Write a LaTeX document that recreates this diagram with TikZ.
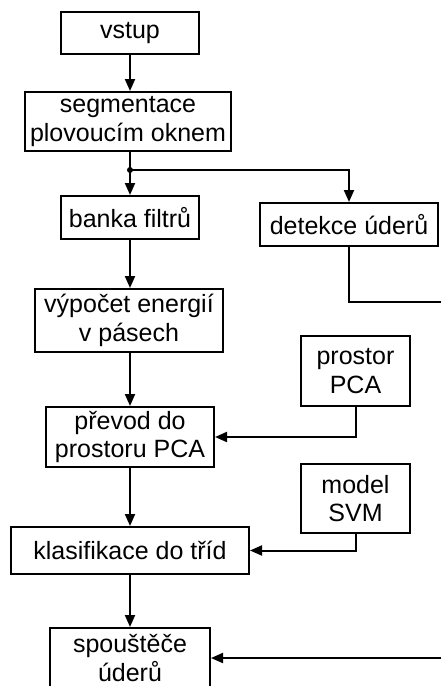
\documentclass[tikz,border=0pt]{standalone}
\usepackage{fontspec}
\setmainfont{Liberation Sans}
\usetikzlibrary{arrows.meta}
\tikzset{
  box/.style={draw, line width=2pt, inner sep=0pt, align=center,
    font=\fontsize{25}{28.5}\selectfont},
  flow/.style={line width=2pt, -{Triangle[length=12pt,width=10pt]}},
  wire/.style={line width=2pt},
}
\begin{document}
\begin{tikzpicture}[x=1pt,y=-1pt]
  \useasboundingbox (0,0) rectangle (441,686);
  \clip (0,0) rectangle (441,686);

  % processing chain
  \node[box, minimum width=138pt, minimum height=42pt] (vstup) at (130,33) {vstup};
  \node[box, minimum width=206pt, minimum height=59pt] (seg) at (128,121.5) {segmentace\\plovoucím oknem};
  \node[box, minimum width=138pt, minimum height=43pt] (banka) at (130,217.5) {banka filtrů};
  \node[box, minimum width=178pt, minimum height=43pt] (detekce) at (349,224.5) {detekce úderů};
  \node[box, minimum width=188pt, minimum height=63pt] (energie) at (129,320.5) {výpočet energií\\v pásech};
  \node[box, minimum width=109pt, minimum height=70pt] (pca) at (355.5,371) {prostor\\PCA};
  \node[box, minimum width=168pt, minimum height=60pt] (prevod) at (130,437) {převod do\\prostoru PCA};
  \node[box, minimum width=109pt, minimum height=69pt] (svm) at (355.5,498.5) {model\\SVM};
  \node[box, minimum width=238pt, minimum height=47pt] (klas) at (130,550.5) {klasifikace do tříd};
  \node[box, minimum width=160pt, minimum height=60pt] (spoust) at (130,658) {spouštěče\\úderů};

  % split after segmentation
  \coordinate (split) at (130,170);
  \draw[wire] (seg.south -| split) -- (split);
  \fill (split) circle (3pt);
  \draw[flow] (split) -- (banka.north -| split);
  \draw[flow] (split) -| (detekce.north);

  % main vertical flow
  \draw[flow] (vstup.south) -- (seg.north -| vstup.south);
  \draw[flow] (banka.south) -- (energie.north -| banka.south);
  \draw[flow] (energie.south -| prevod.north) -- (prevod.north);
  \draw[flow] (prevod.south) -- (klas.north);
  \draw[flow] (klas.south) -- (spoust.north);

  % side inputs
  \draw[flow] (pca.south) |- (prevod.east);
  \draw[flow] (svm.south) |- (klas.east);

  % onset detection loop to the triggers
  \coordinate (loop) at (470,302);
  \draw[flow] (detekce.south) |- (loop) |- (spoust.east);
\end{tikzpicture}
\end{document}
